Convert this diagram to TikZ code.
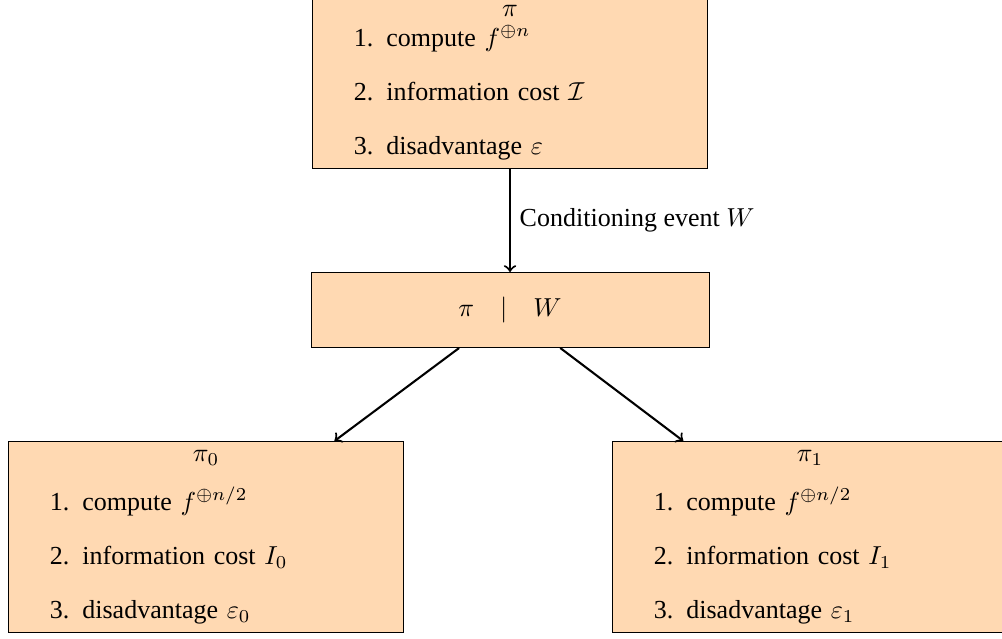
\documentclass[tikz,border=0pt]{standalone}
\usepackage[no-math]{fontspec}
\setmainfont{Liberation Serif}
\usepackage{amsmath}
\usepackage{amssymb}
\usetikzlibrary{positioning}
\usetikzlibrary{arrows}

% tighter lists inside the boxes
\makeatletter
\def\@listi{\leftmargin\leftmargini \parsep\z@ \topsep\z@ \itemsep 8.75pt}
\let\@listI\@listi
\makeatother
\setlength{\partopsep}{0pt}

\tikzstyle{block} = [rectangle, draw=black, fill=orange!30, text width=5.1cm, align=left]
\tikzstyle{arrow} = [thick, ->]

\begin{document}
\begin{tikzpicture}[auto, node distance=1.3cm]

  \useasboundingbox (0,0) rectangle (13.544,8.624);

  % original protocol
  \node[block, anchor=south] (top) at (6.894,6.34) {
    {\centering $\pi$\par}\vspace{-0.6pt}
    \begin{enumerate}
      \item compute $f^{\oplus n}$
      \item information cost $\mathcal{I}$
      \item disadvantage $\varepsilon$
    \end{enumerate}};

  % conditioned protocol
  \node[block, align=center, minimum width=5.38cm, minimum height=1.014cm,
    below=1.392cm of top] (mid) {$\pi \quad | \quad W$};

  % the two halves
  \node[block, below=1.257cm of mid, xshift=-4.109cm] (left) {
    {\centering $\pi_0$\par}\vspace{6.8pt}
    \begin{enumerate}
      \item compute $f^{\oplus n/2}$
      \item information cost $I_0$
      \item disadvantage $\varepsilon_0$
    \end{enumerate}};

  \node[block, below=1.257cm of mid, xshift=4.055cm] (right) {
    {\centering $\pi_1$\par}\vspace{6.8pt}
    \begin{enumerate}
      \item compute $f^{\oplus n/2}$
      \item information cost $I_1$
      \item disadvantage $\varepsilon_1$
    \end{enumerate}};

  \draw[arrow] (top) -- node[right] {Conditioning event $W$} (mid);
  \draw[arrow] (mid) -- (left);
  \draw[arrow] (mid) -- (right);

\end{tikzpicture}
\end{document}
